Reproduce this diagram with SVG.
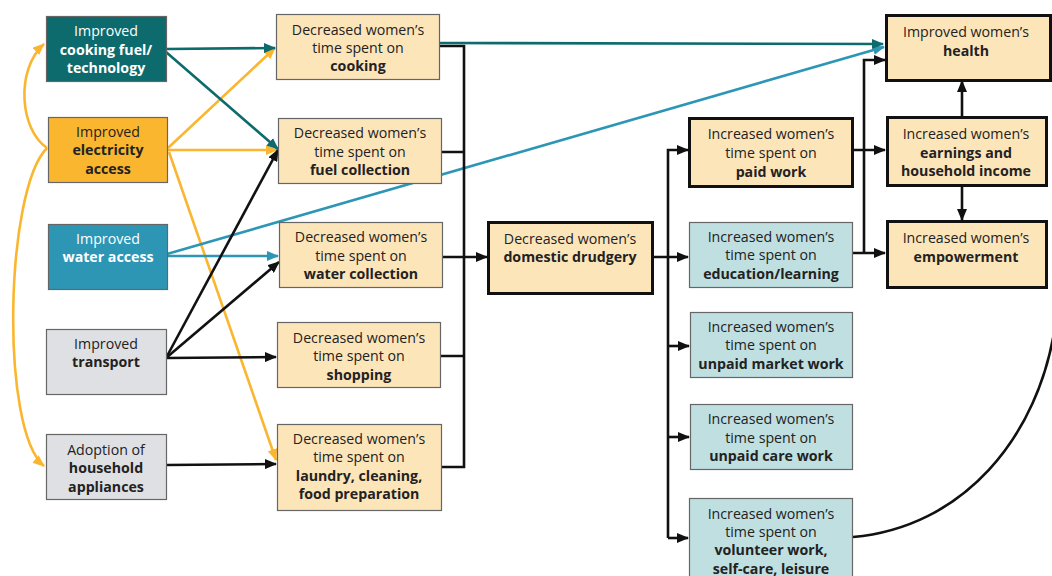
<svg xmlns="http://www.w3.org/2000/svg" width="1052" height="576" viewBox="0 0 1052 576">
<style>
text{font-family:"Open Sans","Liberation Sans",sans-serif;font-size:14.2px;fill:#222;text-anchor:middle}
.b{font-weight:bold}
.w{fill:#fff}
.thin{stroke:#666;stroke-width:1.2}
.thick{stroke:#111;stroke-width:3}
.beige{fill:#fde5ba}
.lblue{fill:#bfdfe1}
.grey{fill:#dfe0e3}
.ln{fill:none;stroke-width:2.6}
.k{stroke:#111}
.t{stroke:#0d6a6d}
.o{stroke:#fbb630}
.u{stroke:#2d96b5}
</style>
<defs>
<marker id="ak" markerUnits="userSpaceOnUse" markerWidth="12" markerHeight="10" refX="11" refY="5" orient="auto"><path d="M0,0 L12,5 L0,10 z" fill="#111"/></marker>
<marker id="at" markerUnits="userSpaceOnUse" markerWidth="12" markerHeight="10" refX="11" refY="5" orient="auto"><path d="M0,0 L12,5 L0,10 z" fill="#0d6a6d"/></marker>
<marker id="ao" markerUnits="userSpaceOnUse" markerWidth="12" markerHeight="10" refX="11" refY="5" orient="auto"><path d="M0,0 L12,5 L0,10 z" fill="#fbb630"/></marker>
<marker id="au" markerUnits="userSpaceOnUse" markerWidth="12" markerHeight="10" refX="11" refY="5" orient="auto"><path d="M0,0 L12,5 L0,10 z" fill="#2d96b5"/></marker>
</defs>

<g id="connectors">
<path class="ln o" d="M47,148 C20,130 15,70 44,44" marker-end="url(#ao)"/>
<path class="ln o" d="M47,148 C5,190 0,430 44,466" marker-end="url(#ao)"/>
<path class="ln o" d="M168,148 L275,48" marker-end="url(#ao)"/>
<path class="ln o" d="M168,150 L277,150" marker-end="url(#ao)"/>
<path class="ln o" d="M169,152 L276,460" marker-end="url(#ao)"/>
<path class="ln t" d="M166,49 L275,48" marker-end="url(#at)"/>
<path class="ln t" d="M166,52 L278,149" marker-end="url(#at)"/>
<path class="ln u" d="M167,256 L278,256" marker-end="url(#au)"/>
<path class="ln u" d="M167,254 L884,47" marker-end="url(#au)"/>
<path class="ln k" d="M166,358 L278,150" marker-end="url(#ak)"/>
<path class="ln k" d="M166,358 L279,262" marker-end="url(#ak)"/>
<path class="ln k" d="M166,358 L276,357" marker-end="url(#ak)"/>
<path class="ln k" d="M166,465 L276,464" marker-end="url(#ak)"/>
<path class="ln k" d="M439,46 L464,46 M441,152 L464,152 M440,356 L464,356 M441,467 L464,467 M464,44.7 L464,468.3"/>
<path class="ln t" d="M440,43 L883,44" marker-end="url(#at)"/>
<path class="ln k" d="M442,257 L487,257" marker-end="url(#ak)"/>
<path class="ln k" d="M652,257 L688,257" marker-end="url(#ak)"/>
<path class="ln k" d="M668,538 L668,150 L688,150" marker-end="url(#ak)"/>
<path class="ln k" d="M668,346 L689,346" marker-end="url(#ak)"/>
<path class="ln k" d="M668,437 L689,437" marker-end="url(#ak)"/>
<path class="ln k" d="M668,538 L688,538" marker-end="url(#ak)"/>
<path class="ln k" d="M852,150 L885,150" marker-end="url(#ak)"/>
<path class="ln k" d="M852,253 L885,253" marker-end="url(#ak)"/>
<path class="ln k" d="M864,253 L864,60 L885,60" marker-end="url(#ak)"/>
<path class="ln k" d="M962,116 L962,81" marker-end="url(#ak)"/>
<path class="ln k" d="M962,186 L962,220" marker-end="url(#ak)"/>
<path class="ln k" d="M853,537 C960,528 1040,440 1056,320 C1070,200 1070,70 1052,56" marker-end="url(#ak)"/>
</g>

<g id="n-cookfuel"><rect x="46.5" y="16.5" width="120" height="65" fill="#0d6a6d" class="thin"/>
<text x="106" y="36" class="w">Improved</text><text x="106" y="55" class="w b">cooking fuel/</text><text x="106" y="73" class="w b">technology</text></g>
<g id="n-elec"><rect x="48.5" y="117.5" width="119" height="65" fill="#fbb630" class="thin"/>
<text x="108" y="137">Improved</text><text x="108" y="155" class="b">electricity</text><text x="108" y="174" class="b">access</text></g>
<g id="n-water"><rect x="48.5" y="224.5" width="119" height="65" fill="#2d96b5" class="thin"/>
<text x="108" y="244" class="w">Improved</text><text x="108" y="262" class="w b">water access</text></g>
<g id="n-transport"><rect x="46.5" y="329.5" width="120" height="65" class="thin grey"/>
<text x="106" y="349">Improved</text><text x="106" y="367" class="b">transport</text></g>
<g id="n-appl"><rect x="46.5" y="434.5" width="120" height="65" class="thin grey"/>
<text x="106" y="455">Adoption of</text><text x="106" y="473" class="b">household</text><text x="106" y="492" class="b">appliances</text></g>

<g id="n-cooking"><rect x="276.5" y="14.5" width="163" height="65" class="thin beige"/>
<text x="358" y="35">Decreased women’s</text><text x="358" y="53">time spent on</text><text x="358" y="71" class="b">cooking</text></g>
<g id="n-fuelcol"><rect x="278.5" y="118.5" width="163" height="65" class="thin beige"/>
<text x="360" y="138">Decreased women’s</text><text x="360" y="157">time spent on</text><text x="360" y="175" class="b">fuel collection</text></g>
<g id="n-watercol"><rect x="279.5" y="222.5" width="163" height="65" class="thin beige"/>
<text x="361" y="242">Decreased women’s</text><text x="361" y="261">time spent on</text><text x="361" y="279" class="b">water collection</text></g>
<g id="n-shopping"><rect x="277.5" y="322.5" width="163" height="65" class="thin beige"/>
<text x="359" y="343">Decreased women’s</text><text x="359" y="361">time spent on</text><text x="359" y="380" class="b">shopping</text></g>
<g id="n-laundry"><rect x="277.5" y="424.5" width="164" height="86" class="thin beige"/>
<text x="359" y="444">Decreased women’s</text><text x="359" y="462">time spent on</text><text x="359" y="481" class="b">laundry, cleaning,</text><text x="359" y="499" class="b">food preparation</text></g>

<g id="n-drudgery"><rect x="488.5" y="222.5" width="164" height="71" class="thick beige"/>
<text x="570" y="244">Decreased women’s</text><text x="570" y="262" class="b">domestic drudgery</text></g>

<g id="n-paid"><rect x="689.5" y="118.5" width="163" height="68" class="thick beige"/>
<text x="771" y="139">Increased women’s</text><text x="771" y="158">time spent on</text><text x="771" y="177" class="b">paid work</text></g>
<g id="n-edu"><rect x="689.5" y="222.5" width="163" height="65" class="thin lblue"/>
<text x="771" y="242">Increased women’s</text><text x="771" y="260">time spent on</text><text x="771" y="279" class="b">education/learning</text></g>
<g id="n-market"><rect x="690.5" y="312.5" width="162" height="65" class="thin lblue"/>
<text x="771" y="332">Increased women’s</text><text x="771" y="350">time spent on</text><text x="771" y="369" class="b">unpaid market work</text></g>
<g id="n-care"><rect x="690.5" y="404.5" width="162" height="65" class="thin lblue"/>
<text x="771" y="424">Increased women’s</text><text x="771" y="443">time spent on</text><text x="771" y="461" class="b">unpaid care work</text></g>
<g id="n-volunteer"><rect x="689.5" y="498.5" width="163" height="90" class="thin lblue"/>
<text x="771" y="519">Increased women’s</text><text x="771" y="537">time spent on</text><text x="771" y="555" class="b">volunteer work,</text><text x="771" y="574" class="b">self-care, leisure</text></g>

<g id="n-health"><rect x="886.5" y="15.5" width="164" height="65" class="thick beige"/>
<text x="966" y="37">Improved women’s</text><text x="966" y="56" class="b">health</text></g>
<g id="n-earnings"><rect x="887.5" y="117.5" width="159" height="68" class="thick beige"/>
<text x="966" y="139">Increased women’s</text><text x="966" y="158" class="b">earnings and</text><text x="966" y="176" class="b">household income</text></g>
<g id="n-empower"><rect x="887.5" y="221.5" width="159" height="66" class="thick beige"/>
<text x="966" y="243">Increased women’s</text><text x="966" y="262" class="b">empowerment</text></g>
</svg>
